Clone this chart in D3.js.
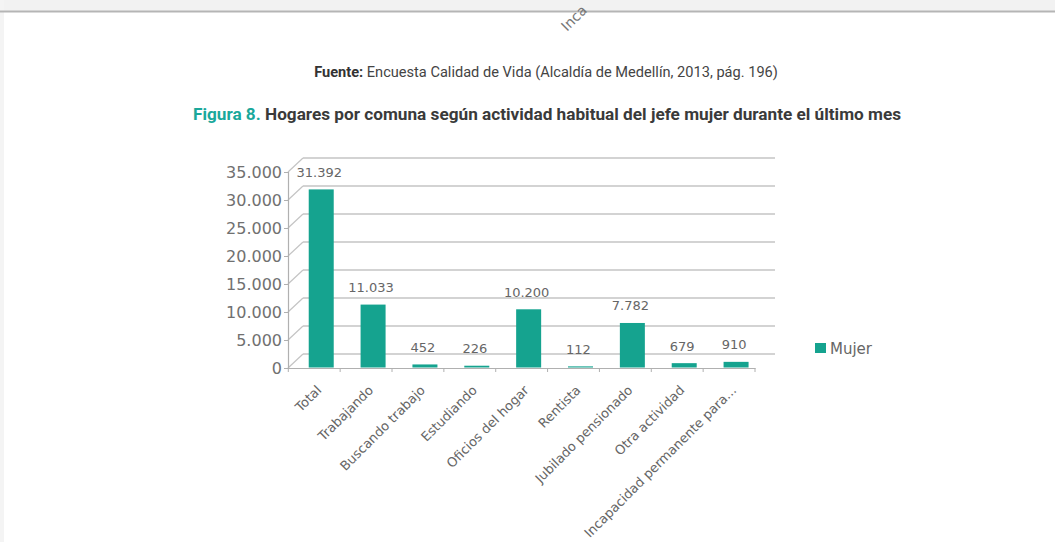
<!DOCTYPE html>
<html>
<head>
<meta charset="utf-8">
<script src="https://cdn.jsdelivr.net/npm/d3@7"></script>
<style>
  html, body { margin: 0; padding: 0; background: #fff; }
  svg { display: block; }
</style>
</head>
<body>
<svg id="chart" width="1055" height="542"></svg>
<script>
const categories = ["Total", "Trabajando", "Buscando trabajo", "Estudiando", "Oficios del hogar", "Rentista", "Jubilado pensionado", "Otra actividad", "Incapacidad permanente para..."];
const mujer = [31392, 11033, 452, 226, 10200, 112, 7782, 679, 910];
const yTicks = [0, 5000, 10000, 15000, 20000, 25000, 30000, 35000];
const seriesName = "Mujer";

const loc = d3.formatLocale({decimal: ",", thousands: ".", grouping: [3], currency: ["$", ""]});
const fmt = loc.format(",d");

const svg = d3.select("#chart");
const teal = "#15a38f";
const txt = "#666666";
const fontLbl = "'DejaVu Sans', sans-serif";

// page decoration
svg.append("rect").attr("x", 0).attr("y", 0).attr("width", 1055).attr("height", 11).attr("fill", "#f2f2f2");
svg.append("rect").attr("x", 0).attr("y", 0).attr("width", 4).attr("height", 542).attr("fill", "#f4f4f4");
svg.append("line").attr("x1", 0).attr("x2", 1055).attr("y1", 11.5).attr("y2", 11.5).attr("stroke", "#b5b5b5").attr("stroke-width", 2);
svg.append("text").attr("transform", "translate(567,32) rotate(-45)")
  .attr("font-family", fontLbl).attr("font-size", 14).attr("fill", "#777").text("Inca");

// titles
const fuente = svg.append("text").attr("x", 546).attr("y", 77).attr("text-anchor", "middle")
  .attr("font-family", "Roboto, sans-serif").attr("font-size", 14.6).attr("fill", "#444");
fuente.append("tspan").attr("font-weight", "bold").attr("fill", "#333").text("Fuente:");
fuente.append("tspan").text(" Encuesta Calidad de Vida (Alcaldía de Medellín, 2013, pág. 196)");

const title = svg.append("text").attr("x", 547).attr("y", 120).attr("text-anchor", "middle")
  .attr("font-family", "Roboto, sans-serif").attr("font-size", 17.2).attr("font-weight", "bold").attr("fill", "#3a3a3a");
title.append("tspan").attr("fill", "#1aa89b").text("Figura 8.");
title.append("tspan").text(" Hogares por comuna según actividad habitual del jefe mujer durante el último mes");

// scales
const x = d3.scaleBand().domain(categories).range([288.3, 755]).paddingInner(0).paddingOuter(0);
const yF = d3.scaleLinear().domain([0, 35000]).range([368, 172]);   // front plane
const yB = d3.scaleLinear().domain([0, 35000]).range([367, 169]);   // bar plane
const depthX = 15, depthY = -14;
const backLeft = 288 + depthX, backRight = 775;

// back wall gridlines
svg.append("g").selectAll("line").data(yTicks).join("line")
  .attr("x1", backLeft).attr("x2", backRight)
  .attr("y1", d => yF(d) + depthY).attr("y2", d => yF(d) + depthY)
  .attr("stroke", "#c4c4c4").attr("stroke-width", 1.4);
// side wall diagonals
svg.append("g").selectAll("line").data(yTicks).join("line")
  .attr("x1", 288).attr("x2", backLeft)
  .attr("y1", d => yF(d)).attr("y2", d => yF(d) + depthY)
  .attr("stroke", "#c4c4c4").attr("stroke-width", 1.2);

// front vertical axis
const yAxis = d3.axisLeft(yF).tickValues(yTicks).tickSize(4).tickPadding(2).tickFormat(fmt);
const gy = svg.append("g").attr("transform", "translate(288,0)").call(yAxis);
gy.select(".domain").attr("stroke", "#b0b0b0").attr("stroke-width", 1.2);
gy.selectAll(".tick line").attr("stroke", "#b0b0b0");
gy.selectAll(".tick text").attr("font-family", fontLbl).attr("font-size", 16).attr("fill", "#707070").attr("dy", "0.34em");

// front x axis
const xAxis = d3.axisBottom(x).tickSize(0).tickFormat("");
const gx = svg.append("g").attr("transform", "translate(0,368)").call(xAxis);
gx.select(".domain").attr("stroke", "#b0b0b0").attr("stroke-width", 1.2);
gx.selectAll(".tick").remove();
const bounds = categories.map(c => x(c)).concat([x.range()[1]]);
svg.append("g").selectAll("line").data(bounds).join("line")
  .attr("x1", d => d).attr("x2", d => d).attr("y1", 368).attr("y2", 372)
  .attr("stroke", "#b0b0b0").attr("stroke-width", 1);

// bars
const barW = 25, barShift = 7;
svg.append("g").selectAll("rect").data(categories).join("rect")
  .attr("x", c => x(c) + x.bandwidth() / 2 + barShift - barW / 2)
  .attr("width", barW)
  .attr("y", (c, i) => yB(mujer[i]))
  .attr("height", (c, i) => 367.5 - yB(mujer[i]))
  .attr("fill", teal);

// data labels
svg.append("g").selectAll("text").data(categories).join("text")
  .attr("x", c => x(c) + x.bandwidth() / 2 + 5)
  .attr("y", (c, i) => yB(mujer[i]) - 12.5)
  .attr("text-anchor", "middle")
  .attr("font-family", fontLbl).attr("font-size", 13).attr("fill", txt)
  .text((c, i) => fmt(mujer[i]));

// category labels
svg.append("g").selectAll("text").data(categories).join("text")
  .attr("transform", c => `translate(${x(c) + x.bandwidth() / 2 + 8},391) rotate(-45)`)
  .attr("text-anchor", "end")
  .attr("font-family", fontLbl).attr("font-size", 13).attr("fill", txt)
  .text(c => c);

// legend
svg.append("rect").attr("x", 815).attr("y", 343).attr("width", 11).attr("height", 10).attr("fill", teal);
svg.append("text").attr("x", 830).attr("y", 354).attr("font-family", fontLbl).attr("font-size", 15).attr("fill", txt).text(seriesName);
</script>
</body>
</html>
